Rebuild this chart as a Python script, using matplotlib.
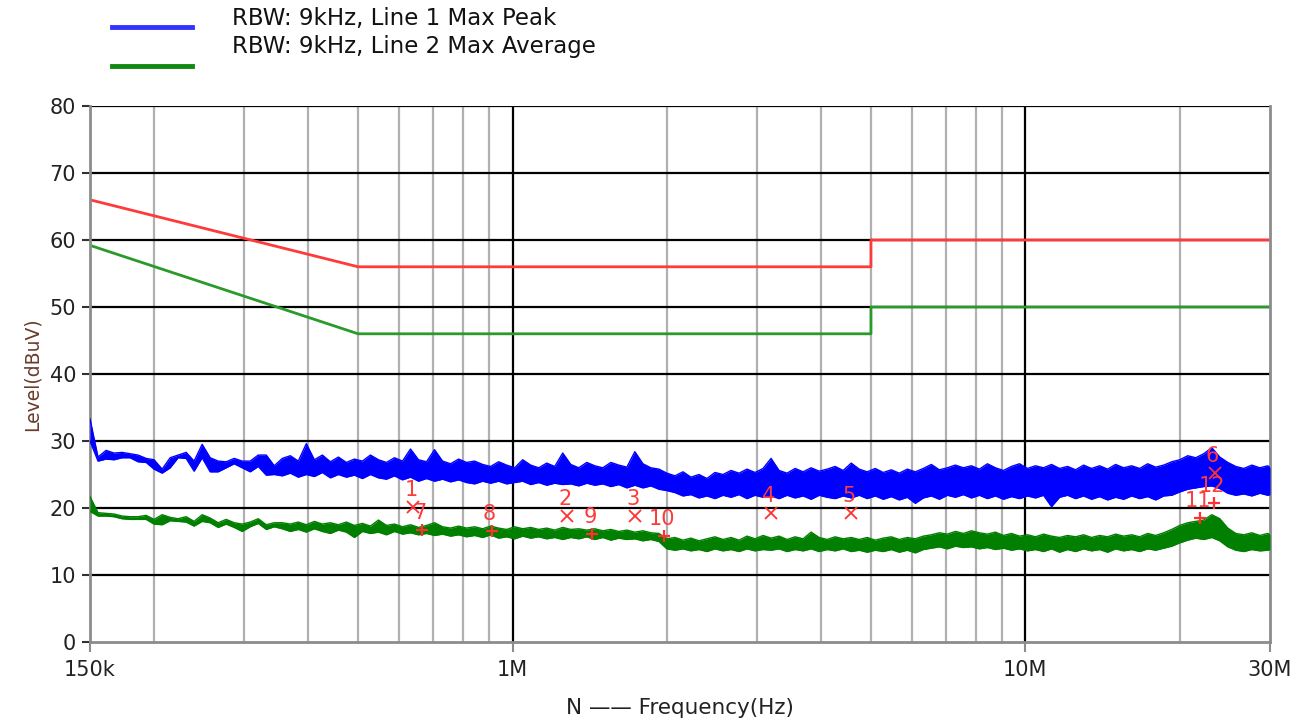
import matplotlib
matplotlib.use('Agg')
import matplotlib.pyplot as plt
from matplotlib.ticker import FixedLocator, NullFormatter
from matplotlib.lines import Line2D

# ---- data ----
# frequency grid in kHz (log spaced, read positions)
freq_khz = [150, 155.5, 161.2, 167.1, 173.2, 179.6, 186.1, 193.0, 200.0, 207.4,
            215.0, 222.8, 231.0, 239.4, 248.2, 257.3, 266.7, 276.5, 286.6, 297.1,
            308.0, 319.3, 331.0, 343.1, 355.7, 368.7, 382.2, 396.2, 410.8, 425.8,
            441.4, 457.6, 474.3, 491.7, 509.7, 528.4, 547.8, 567.8, 588.6, 610.2,
            632.5, 655.7, 679.7, 704.6, 730.5, 757.2, 785.0, 813.7, 843.5, 874.4,
            906.4, 939.6, 974.1, 1009.8, 1046.7, 1085.1, 1124.8, 1166.1, 1208.8, 1253.0,
            1298.9, 1346.5, 1395.9, 1447.0, 1500, 1555, 1612, 1671, 1732, 1796,
            1861, 1930, 2000, 2074, 2150, 2228, 2310, 2394, 2482, 2573,
            2667, 2765, 2866, 2971, 3080, 3193, 3310, 3431, 3557, 3687,
            3822, 3962, 4108, 4258, 4414, 4576, 4743, 4917, 5097, 5284,
            5478, 5678, 5886, 6102, 6325, 6557, 6797, 7046, 7305, 7572,
            7850, 8137, 8435, 8744, 9064, 9396, 9741, 10098, 10467, 10851,
            11248, 11661, 12088, 12530, 12989, 13465, 13959, 14470, 15000, 15549,
            16119, 16710, 17321, 17956, 18614, 19296, 20003, 20736, 21495, 22283,
            23099, 23945, 24822, 25731, 26673, 27650, 28664, 29715, 30000]

peak_hi = [33.3, 27.6, 28.6, 28.2, 28.3, 28.1, 27.9, 27.4, 27.2, 25.8,
           27.5, 27.9, 28.3, 27.0, 29.5, 27.5, 27.0, 26.9, 27.4, 27.0,
           27.0, 27.9, 27.9, 26.3, 27.4, 27.8, 27.0, 29.6, 27.2, 27.9,
           26.9, 27.6, 26.8, 27.3, 27.0, 27.9, 27.2, 26.8, 27.5, 27.0,
           28.8, 27.2, 26.9, 28.7, 27.0, 26.6, 27.3, 26.8, 27.0, 26.5,
           26.2, 26.9, 26.4, 26.0, 27.2, 26.4, 26.0, 26.7, 26.2, 28.2,
           26.5, 26.0, 26.8, 26.3, 26.0, 26.8, 26.4, 26.1, 28.4, 26.6,
           26.0, 25.8, 25.2, 24.8, 25.4, 24.6, 25.0, 24.4, 25.3, 25.0,
           25.6, 25.2, 25.8, 25.3, 25.9, 27.4, 25.6, 25.2, 25.9, 25.4,
           26.0, 25.5, 25.8, 26.2, 25.6, 26.7, 25.8, 25.4, 25.9, 25.3,
           25.7, 25.2, 25.8, 25.4, 25.9, 26.5, 25.7, 26.0, 26.4, 26.0,
           26.3, 25.8, 26.6, 26.0, 25.6, 26.2, 26.6, 25.9, 26.3, 26.0,
           26.5, 25.9, 26.2, 25.7, 26.4, 25.9, 26.3, 25.8, 26.5, 26.0,
           26.3, 25.9, 26.6, 26.1, 26.4, 26.9, 27.2, 27.8, 27.5, 28.1,
           29.0, 27.6, 26.8, 26.2, 25.9, 26.4, 26.0, 26.3, 26.0]
peak_lo = [30.0, 27.0, 27.3, 27.2, 27.5, 27.5, 26.9, 26.8, 25.8, 25.2,
           26.0, 27.5, 27.4, 25.5, 27.5, 25.4, 25.4, 26.0, 26.6, 26.0,
           25.4, 26.2, 24.9, 25.0, 24.8, 25.2, 24.6, 25.0, 24.7, 25.3,
           24.5, 25.0, 24.6, 24.9, 24.4, 25.0, 24.5, 24.3, 24.8, 24.2,
           24.6, 24.0, 24.4, 24.0, 24.3, 23.9, 24.2, 23.8, 23.6, 24.0,
           23.7, 24.0, 23.6, 23.8, 24.0, 23.5, 23.8, 23.4, 23.7, 23.5,
           23.6, 23.3, 23.7, 23.4, 23.6, 23.2, 23.5, 23.0, 23.4, 23.0,
           23.3, 22.8, 22.6, 22.3, 21.8, 22.0, 21.5, 21.8, 21.4, 21.9,
           21.6, 22.0, 21.4, 21.9, 21.6, 21.8, 21.4, 21.9, 21.5, 21.8,
           21.3, 21.9, 21.6, 21.4, 21.8, 21.5, 21.9, 21.4, 21.8, 21.3,
           21.7, 21.2, 21.6, 20.7, 21.5, 21.8, 21.3, 21.9, 21.6, 22.0,
           21.5, 21.9, 21.4, 21.8, 21.3, 21.7, 21.4, 21.8, 21.5, 21.9,
           20.2, 21.6, 21.9, 21.4, 21.8, 21.3, 21.7, 21.2, 21.6, 21.3,
           21.8, 21.4, 21.7, 21.2, 21.8, 21.9, 22.4, 22.8, 23.0, 23.2,
           23.3, 22.9, 22.2, 21.9, 22.1, 21.8, 22.2, 21.9, 22.0]

avg_hi = [21.7, 19.3, 19.2, 19.1, 18.8, 18.7, 18.7, 18.9, 18.3, 19.0,
          18.6, 18.4, 18.7, 18.0, 19.0, 18.5, 17.8, 18.3, 17.8, 17.6,
          17.9, 18.4, 17.5, 17.8, 17.8, 17.6, 17.9, 17.5, 18.0, 17.6,
          17.8, 17.5, 17.9, 17.4, 17.7, 17.3, 18.2, 17.4, 17.6, 17.2,
          17.5, 17.1, 17.4, 17.8, 17.2, 17.0, 17.3, 17.0, 17.2, 16.9,
          17.3, 17.0, 16.8, 17.2, 16.9, 17.1, 16.8, 17.0, 16.7, 17.1,
          16.8, 16.9, 16.7, 16.9, 16.6, 16.8, 16.5, 16.7, 16.4, 16.6,
          16.3, 16.2, 15.4, 15.6, 15.2, 15.5, 15.1, 15.4, 15.7, 15.3,
          15.6, 15.2, 15.8, 15.4, 15.9, 15.5, 15.8, 15.3, 15.7, 15.4,
          16.4, 15.6, 15.3, 15.7, 15.4, 15.6, 15.3, 15.6, 15.2, 15.5,
          15.7, 15.3, 15.6, 15.4, 15.8, 16.0, 16.3, 16.1, 16.5, 16.2,
          16.6, 16.3, 16.1, 16.4, 15.9, 16.2, 15.8, 16.0, 15.7, 16.1,
          15.8, 15.6, 15.9, 15.7, 16.0, 15.6, 15.9, 15.7, 16.1, 15.8,
          16.0, 15.7, 16.2, 15.9, 16.3, 16.8, 17.4, 17.8, 18.0, 18.2,
          19.0, 18.4, 17.0, 16.2, 16.0, 16.3, 15.9, 16.2, 16.0]
avg_lo = [19.5, 18.8, 18.8, 18.7, 18.4, 18.3, 18.3, 18.3, 17.6, 17.5,
          18.1, 18.0, 17.9, 17.3, 18.0, 17.8, 17.1, 17.6, 17.1, 16.5,
          17.2, 17.7, 16.8, 17.2, 16.9, 16.5, 16.8, 16.4, 16.9, 16.5,
          16.2, 16.7, 16.4, 15.6, 16.5, 16.2, 16.4, 16.0, 16.5, 16.1,
          16.3, 16.0, 16.2, 15.9, 16.1, 15.8, 16.0, 15.7, 15.9, 15.6,
          16.0, 15.5, 15.7, 15.4, 15.8, 15.5, 15.7, 15.4, 15.6, 15.3,
          15.6, 15.4, 15.7, 15.3, 15.6, 15.2, 15.5, 15.3, 15.4, 15.1,
          15.3, 15.0, 13.9, 13.7, 13.9, 13.6, 13.8, 13.5, 13.9, 13.6,
          13.8, 13.5, 13.9, 13.6, 13.8, 13.7, 13.9, 13.5, 13.8, 13.6,
          13.9, 13.5, 13.8, 13.6, 13.9, 13.5, 13.7, 13.4, 13.7, 13.5,
          13.8, 13.4, 13.7, 13.3, 13.8, 14.0, 14.2, 13.9, 14.3, 14.1,
          14.2, 13.9, 14.1, 13.8, 14.0, 13.7, 13.9, 13.6, 13.8, 13.5,
          13.9, 13.4, 13.8, 13.5, 13.9, 13.6, 13.8, 13.4, 13.9, 13.6,
          13.8, 13.5, 13.9, 13.7, 14.0, 14.3, 14.8, 15.2, 15.5, 15.3,
          15.6, 15.1, 14.2, 13.7, 13.5, 13.8, 13.6, 13.7, 13.8]

# limit lines (QP and average)
limit_f = [150e3, 500e3, 5e6, 5e6, 30e6]
limit_qp = [66, 56, 56, 60, 60]
limit_av = [59.2, 46, 46, 50, 50]

# final measurement markers
qp_ids = ['1', '2', '3', '4', '5', '6']
qp_f = [641e3, 1.28e6, 1.73e6, 3.19e6, 4.57e6, 23.4e6]
qp_val = [20.1, 18.8, 18.8, 19.2, 19.2, 25.2]
av_ids = ['7', '8', '9', '10', '11', '12']
av_f = [665e3, 910e3, 1.43e6, 1.97e6, 21.9e6, 23.3e6]
av_val = [16.7, 16.6, 16.1, 15.8, 18.5, 20.7]

legend_labels = ['RBW: 9kHz, Line 1 Max Peak', 'RBW: 9kHz, Line 2 Max Average']

# ---- figure ----
fig = plt.figure(figsize=(13.05, 7.22), dpi=100)
ax = fig.add_axes([90 / 1305, 80 / 722, 1180 / 1305, 536 / 722])

freq = [f * 1e3 for f in freq_khz]

ax.set_xscale('log')
ax.set_xlim(150e3, 30e6)
ax.set_ylim(0, 80)

# grid
minor_f = [2e5, 3e5, 4e5, 5e5, 6e5, 7e5, 8e5, 9e5,
           2e6, 3e6, 4e6, 5e6, 6e6, 7e6, 8e6, 9e6, 2e7]
for f in minor_f:
    ax.axvline(f, color='#b0b0b0', lw=1.6, zorder=1)
for f in [1e6, 1e7]:
    ax.axvline(f, color='black', lw=1.6, zorder=1)
for y in range(10, 81, 10):
    ax.axhline(y, color='black', lw=1.6, zorder=1)

# traces
ax.fill_between(freq, peak_lo, peak_hi, color='#0000ff', lw=0, zorder=3)
ax.plot(freq, peak_hi, color='#0000ff', lw=1.0, zorder=3)
ax.plot(freq, peak_lo, color='#0000ff', lw=1.0, zorder=3)
ax.fill_between(freq, avg_lo, avg_hi, color='#007f00', lw=0, zorder=3)
ax.plot(freq, avg_hi, color='#007f00', lw=1.0, zorder=3)
ax.plot(freq, avg_lo, color='#007f00', lw=1.0, zorder=3)

# limits
ax.plot(limit_f, limit_qp, color='#ff3a3a', lw=2, zorder=2)
ax.plot(limit_f, limit_av, color='#2a9a2a', lw=2, zorder=2)

# markers
mk_col = '#ff3030'
ax.plot(qp_f, qp_val, 'x', color=mk_col, ms=8, mew=1.3, zorder=4)
ax.plot(av_f, av_val, '+', color=mk_col, ms=9, mew=1.6, zorder=4)
for lab, f, v in list(zip(qp_ids, qp_f, qp_val)) + list(zip(av_ids, av_f, av_val)):
    ax.annotate(lab, (f, v), xytext=(-2, 17), textcoords='offset pixels',
                ha='center', va='center', color='#ff3a3a', fontsize=15, zorder=5)

# spines and ticks
ax.spines['top'].set_visible(False)
for s in ['left', 'bottom', 'right']:
    ax.spines[s].set_color('#8c8c8c')
    ax.spines[s].set_linewidth(2)

ax.xaxis.set_major_locator(FixedLocator([150e3, 1e6, 1e7, 30e6]))
ax.xaxis.set_minor_formatter(NullFormatter())
ax.xaxis.set_minor_locator(FixedLocator([]))
ax.set_xticklabels(['150k', '1M', '10M', '30M'])
ax.set_yticks(range(0, 81, 10))
ax.tick_params(axis='x', length=7, width=1.5, color='#8c8c8c', labelsize=15,
               labelcolor='#222222', pad=6)
ax.tick_params(axis='y', length=6, width=1.5, color='#333333', labelsize=15,
               labelcolor='#222222', pad=4)

ax.set_xlabel('N —— Frequency(Hz)', fontsize=15.5, color='#222222', labelpad=13)
ax.set_ylabel('Level(dBuV)', fontsize=13.5, color='#6b3a2a', labelpad=6)

# legend drawn above the plot
fig.add_artist(Line2D([112 / 1305, 192 / 1305], [1 - 27 / 722, 1 - 27 / 722],
                      color='#3333ff', lw=3.5))
fig.add_artist(Line2D([112 / 1305, 192 / 1305], [1 - 66 / 722, 1 - 66 / 722],
                      color='#118811', lw=3.5))
fig.text(232 / 1305, 1 - 18 / 722, legend_labels[0], fontsize=16.5,
         va='center', ha='left', color='#111111')
fig.text(232 / 1305, 1 - 47 / 722, legend_labels[1], fontsize=16.5,
         va='center', ha='left', color='#111111')

fig.savefig('out.png', dpi=100)
